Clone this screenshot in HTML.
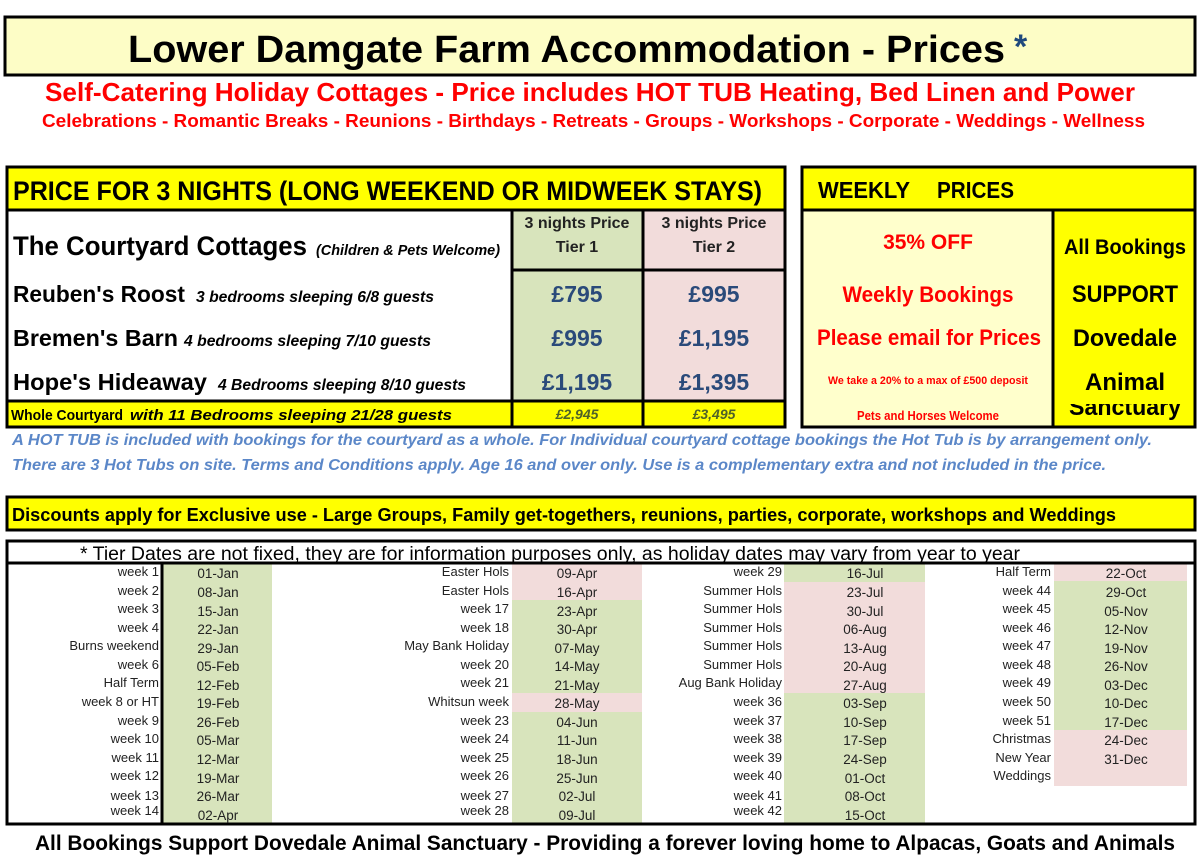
<!DOCTYPE html>
<html><head><meta charset="utf-8"><style>html,body{margin:0;padding:0;background:#fff}svg{display:block}</style></head><body>
<svg width="1200" height="856" viewBox="0 0 1200 856" xmlns="http://www.w3.org/2000/svg" font-family="Liberation Sans, sans-serif">
<defs><clipPath id="sc"><rect x="1055" y="404" width="140" height="22"/></clipPath></defs>
<rect width="1200" height="856" fill="#fff"/>
<!-- Title -->
<rect x="5" y="17" width="1190" height="58" fill="#fdfdc6" stroke="#000" stroke-width="3"/>
<text x="128" y="62" font-size="38" font-weight="bold" textLength="877" lengthAdjust="spacingAndGlyphs">Lower Damgate Farm Accommodation - Prices</text>
<text x="1014" y="58" font-size="34" font-weight="bold" fill="#1f497d">*</text>
<text x="45" y="101" font-size="26" font-weight="bold" fill="#ff0000" textLength="1090" lengthAdjust="spacingAndGlyphs">Self-Catering Holiday Cottages  - Price includes HOT TUB Heating, Bed Linen and Power</text>
<text x="42" y="127" font-size="18" font-weight="bold" fill="#ff0000" textLength="1103" lengthAdjust="spacingAndGlyphs">Celebrations - Romantic Breaks - Reunions - Birthdays - Retreats - Groups - Workshops - Corporate - Weddings - Wellness</text>

<!-- Price box -->
<rect x="7" y="167" width="778" height="260" fill="#fff"/>
<rect x="7" y="167" width="778" height="43" fill="#ffff00"/>
<rect x="512" y="210" width="131" height="191" fill="#d8e4bc"/>
<rect x="643" y="210" width="141" height="191" fill="#f2dcdb"/>
<rect x="7" y="401" width="778" height="26" fill="#ffff00"/>
<rect x="7" y="167" width="778" height="260" fill="none" stroke="#000" stroke-width="3"/>
<line x1="7" y1="210" x2="785" y2="210" stroke="#000" stroke-width="3"/>
<line x1="7" y1="401" x2="785" y2="401" stroke="#000" stroke-width="3"/>
<line x1="512" y1="210" x2="512" y2="427" stroke="#000" stroke-width="3"/>
<line x1="643" y1="210" x2="643" y2="427" stroke="#000" stroke-width="3"/>
<line x1="512" y1="270" x2="785" y2="270" stroke="#000" stroke-width="3"/>
<text x="13" y="200" font-size="27" font-weight="bold" textLength="749" lengthAdjust="spacingAndGlyphs">PRICE FOR 3 NIGHTS (LONG WEEKEND OR MIDWEEK STAYS)</text>
<g font-size="16" font-weight="bold" text-anchor="middle" fill="#222">
<text x="577" y="228">3 nights Price</text><text x="577" y="252">Tier 1</text>
<text x="714" y="228">3 nights Price</text><text x="714" y="252">Tier 2</text>
</g>
<text x="13" y="255" font-size="27" font-weight="bold" textLength="294" lengthAdjust="spacingAndGlyphs">The Courtyard Cottages</text>
<text x="316" y="255" font-size="15" font-weight="bold" font-style="italic" textLength="184" lengthAdjust="spacingAndGlyphs">(Children &amp; Pets Welcome)</text>
<text x="13" y="302" font-size="23" font-weight="bold" textLength="172" lengthAdjust="spacingAndGlyphs">Reuben's Roost</text>
<text x="196" y="302" font-size="16" font-weight="bold" font-style="italic" textLength="238" lengthAdjust="spacingAndGlyphs">3 bedrooms sleeping 6/8 guests</text>
<text x="13" y="346" font-size="23" font-weight="bold" textLength="165" lengthAdjust="spacingAndGlyphs">Bremen's Barn</text>
<text x="184" y="346" font-size="16" font-weight="bold" font-style="italic" textLength="247" lengthAdjust="spacingAndGlyphs">4 bedrooms sleeping 7/10 guests</text>
<text x="13" y="390" font-size="23" font-weight="bold" textLength="194" lengthAdjust="spacingAndGlyphs">Hope's Hideaway</text>
<text x="218" y="390" font-size="16" font-weight="bold" font-style="italic" textLength="248" lengthAdjust="spacingAndGlyphs">4 Bedrooms sleeping 8/10 guests</text>
<text x="11" y="420" font-size="15" font-weight="bold" textLength="112" lengthAdjust="spacingAndGlyphs">Whole Courtyard</text>
<text x="130" y="420" font-size="15" font-weight="bold" font-style="italic" textLength="322" lengthAdjust="spacingAndGlyphs">with 11 Bedrooms sleeping 21/28 guests</text>
<g font-size="23" font-weight="bold" text-anchor="middle" fill="#2a4a7a">
<text x="577" y="302">£795</text><text x="714" y="302">£995</text>
<text x="577" y="346">£995</text><text x="714" y="346">£1,195</text>
<text x="577" y="390">£1,195</text><text x="714" y="390">£1,395</text>
</g>
<g font-size="14" font-weight="bold" font-style="italic" text-anchor="middle" fill="#4f6228">
<text x="577" y="419">£2,945</text><text x="714" y="419">£3,495</text>
</g>

<!-- Weekly box -->
<rect x="802" y="167" width="394" height="43" fill="#ffff00"/>
<rect x="802" y="210" width="251" height="217" fill="#ffffcc"/>
<rect x="1053" y="210" width="143" height="217" fill="#ffff00"/>
<rect x="802" y="167" width="393" height="260" fill="none" stroke="#000" stroke-width="3"/>
<line x1="802" y1="210" x2="1196" y2="210" stroke="#000" stroke-width="3"/>
<line x1="1053" y1="210" x2="1053" y2="427" stroke="#000" stroke-width="3"/>
<text x="818" y="198" font-size="23" font-weight="bold" textLength="92" lengthAdjust="spacingAndGlyphs">WEEKLY</text>
<text x="937" y="198" font-size="23" font-weight="bold" textLength="77" lengthAdjust="spacingAndGlyphs">PRICES</text>
<g fill="#ff0000" font-weight="bold" text-anchor="middle">
<text x="928" y="249" font-size="21">35% OFF</text>
<text x="928" y="302" font-size="22" textLength="171" lengthAdjust="spacingAndGlyphs">Weekly Bookings</text>
<text x="929" y="345" font-size="22" textLength="224" lengthAdjust="spacingAndGlyphs">Please email for Prices</text>
<text x="928" y="384" font-size="11" textLength="200" lengthAdjust="spacingAndGlyphs">We take a 20% to a max of £500 deposit</text>
<text x="928" y="420" font-size="13" textLength="142" lengthAdjust="spacingAndGlyphs">Pets and Horses Welcome</text>
</g>
<g font-weight="bold" text-anchor="middle">
<text x="1125" y="254" font-size="21" textLength="122" lengthAdjust="spacingAndGlyphs">All Bookings</text>
<text x="1125" y="302" font-size="24" textLength="106" lengthAdjust="spacingAndGlyphs">SUPPORT</text>
<text x="1125" y="346" font-size="24" textLength="104" lengthAdjust="spacingAndGlyphs">Dovedale</text>
<text x="1125" y="390" font-size="24" textLength="80" lengthAdjust="spacingAndGlyphs">Animal</text>
<text x="1125" y="415" font-size="24" textLength="112" lengthAdjust="spacingAndGlyphs" clip-path="url(#sc)">Sanctuary</text>
</g>

<!-- Blue notes -->
<g fill="#5b87c8" font-size="15.5" font-weight="bold" font-style="italic">
<text x="12" y="445" textLength="1140" lengthAdjust="spacingAndGlyphs">A HOT TUB is included with bookings for the courtyard as a whole.   For Individual courtyard cottage bookings the Hot Tub is by arrangement only.</text>
<text x="12" y="470" textLength="1094" lengthAdjust="spacingAndGlyphs">There are 3 Hot Tubs on site. Terms and Conditions apply.  Age 16 and over only. Use is a complementary extra and not included in the price.</text>
</g>

<!-- Discounts -->
<rect x="7" y="497" width="1188" height="33" fill="#ffff00" stroke="#000" stroke-width="3"/>
<text x="12" y="521" font-size="18" font-weight="bold" textLength="1104" lengthAdjust="spacingAndGlyphs">Discounts apply for Exclusive use - Large Groups, Family get-togethers, reunions, parties, corporate, workshops and Weddings</text>

<!-- Dates table -->
<rect x="7" y="541" width="1188" height="283" fill="#fff"/>
<g fill="#d8e4bc">
<rect x="163" y="563" width="109" height="260"/>
<rect x="512" y="600" width="130" height="93"/>
<rect x="512" y="712" width="130" height="111"/>
<rect x="784" y="563" width="141" height="19"/>
<rect x="784" y="693" width="141" height="130"/>
<rect x="1054" y="581" width="133" height="149"/>
</g>
<g fill="#f2dcdb">
<rect x="512" y="563" width="130" height="37"/>
<rect x="512" y="693" width="130" height="19"/>
<rect x="784" y="582" width="141" height="111"/>
<rect x="1054" y="563" width="133" height="18"/>
<rect x="1054" y="730" width="133" height="56"/>
</g>
<rect x="7" y="541" width="1188" height="283" fill="none" stroke="#000" stroke-width="3"/>
<line x1="7" y1="563" x2="1195" y2="563" stroke="#000" stroke-width="3"/>
<line x1="162" y1="563" x2="162" y2="824" stroke="#000" stroke-width="3"/>
<text x="80" y="560" font-size="19" textLength="940" lengthAdjust="spacingAndGlyphs">* Tier Dates are not fixed, they are for information purposes only, as holiday dates may vary from year to year</text>

<g font-size="13" fill="#222" text-anchor="end">
<text x="159" y="576">week 1</text><text x="159" y="595">week 2</text><text x="159" y="613">week 3</text><text x="159" y="632">week 4</text><text x="159" y="650">Burns weekend</text><text x="159" y="669">week 6</text><text x="159" y="687">Half Term</text><text x="159" y="706">week 8 or HT</text><text x="159" y="725">week 9</text><text x="159" y="743">week 10</text><text x="159" y="762">week 11</text><text x="159" y="780">week 12</text><text x="159" y="800">week 13</text><text x="159" y="815">week 14</text>
<text x="509" y="576">Easter Hols</text><text x="509" y="595">Easter Hols</text><text x="509" y="613">week 17</text><text x="509" y="632">week 18</text><text x="509" y="650">May Bank Holiday</text><text x="509" y="669">week 20</text><text x="509" y="687">week 21</text><text x="509" y="706">Whitsun week</text><text x="509" y="725">week 23</text><text x="509" y="743">week 24</text><text x="509" y="762">week 25</text><text x="509" y="780">week 26</text><text x="509" y="800">week 27</text><text x="509" y="815">week 28</text>
<text x="782" y="576">week 29</text><text x="782" y="595">Summer Hols</text><text x="782" y="613">Summer Hols</text><text x="782" y="632">Summer Hols</text><text x="782" y="650">Summer Hols</text><text x="782" y="669">Summer Hols</text><text x="782" y="687">Aug Bank Holiday</text><text x="782" y="706">week 36</text><text x="782" y="725">week 37</text><text x="782" y="743">week 38</text><text x="782" y="762">week 39</text><text x="782" y="780">week 40</text><text x="782" y="800">week 41</text><text x="782" y="815">week 42</text>
<text x="1051" y="576">Half Term</text><text x="1051" y="595">week 44</text><text x="1051" y="613">week 45</text><text x="1051" y="632">week 46</text><text x="1051" y="650">week 47</text><text x="1051" y="669">week 48</text><text x="1051" y="687">week 49</text><text x="1051" y="706">week 50</text><text x="1051" y="725">week 51</text><text x="1051" y="743">Christmas</text><text x="1051" y="762">New Year</text><text x="1051" y="780">Weddings</text>
</g>
<g font-size="13.5" fill="#222" text-anchor="middle">
<text x="218" y="578">01-Jan</text><text x="218" y="597">08-Jan</text><text x="218" y="616">15-Jan</text><text x="218" y="634">22-Jan</text><text x="218" y="653">29-Jan</text><text x="218" y="671">05-Feb</text><text x="218" y="690">12-Feb</text><text x="218" y="708">19-Feb</text><text x="218" y="727">26-Feb</text><text x="218" y="745">05-Mar</text><text x="218" y="764">12-Mar</text><text x="218" y="783">19-Mar</text><text x="218" y="801">26-Mar</text><text x="218" y="820">02-Apr</text>
<text x="577" y="578">09-Apr</text><text x="577" y="597">16-Apr</text><text x="577" y="616">23-Apr</text><text x="577" y="634">30-Apr</text><text x="577" y="653">07-May</text><text x="577" y="671">14-May</text><text x="577" y="690">21-May</text><text x="577" y="708">28-May</text><text x="577" y="727">04-Jun</text><text x="577" y="745">11-Jun</text><text x="577" y="764">18-Jun</text><text x="577" y="783">25-Jun</text><text x="577" y="801">02-Jul</text><text x="577" y="820">09-Jul</text>
<text x="865" y="578">16-Jul</text><text x="865" y="597">23-Jul</text><text x="865" y="616">30-Jul</text><text x="865" y="634">06-Aug</text><text x="865" y="653">13-Aug</text><text x="865" y="671">20-Aug</text><text x="865" y="690">27-Aug</text><text x="865" y="708">03-Sep</text><text x="865" y="727">10-Sep</text><text x="865" y="745">17-Sep</text><text x="865" y="764">24-Sep</text><text x="865" y="783">01-Oct</text><text x="865" y="801">08-Oct</text><text x="865" y="820">15-Oct</text>
<text x="1126" y="578">22-Oct</text><text x="1126" y="597">29-Oct</text><text x="1126" y="616">05-Nov</text><text x="1126" y="634">12-Nov</text><text x="1126" y="653">19-Nov</text><text x="1126" y="671">26-Nov</text><text x="1126" y="690">03-Dec</text><text x="1126" y="708">10-Dec</text><text x="1126" y="727">17-Dec</text><text x="1126" y="745">24-Dec</text><text x="1126" y="764">31-Dec</text>
</g>

<text x="35" y="850" font-size="21" font-weight="bold" textLength="1140" lengthAdjust="spacingAndGlyphs">All Bookings Support Dovedale Animal Sanctuary - Providing a forever loving home to Alpacas, Goats and Animals</text>
</svg>
</body></html>
